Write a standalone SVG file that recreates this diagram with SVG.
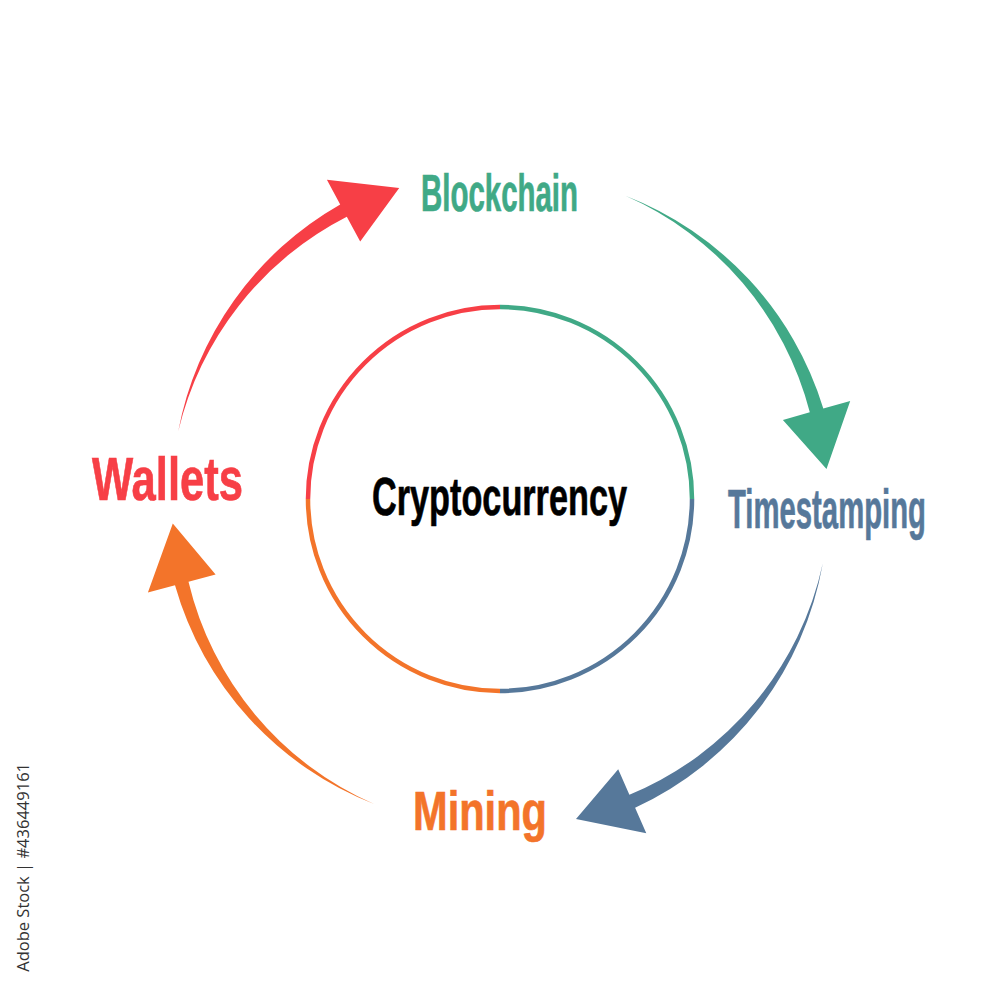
<svg xmlns="http://www.w3.org/2000/svg" width="1000" height="1000" viewBox="0 0 1000 1000">
<style>
.lbl{font-family:"Liberation Sans",Arial,sans-serif;font-weight:bold;stroke-width:0.7}
.ring{fill:none;stroke-width:4.5}
.red{fill:#F73F46;stroke:#F73F46}
.green{fill:#40A986;stroke:#40A986}
.blue{fill:#56789A;stroke:#56789A}
.orange{fill:#F3742A;stroke:#F3742A}
.conn path{stroke:none}
</style>
<rect width="1000" height="1000" fill="#ffffff"/>
<g id="center">
<path class="ring" stroke="#F73F46" d="M308,499 A192,192 0 0 1 500,307"/>
<path class="ring" stroke="#40A986" d="M500,307 A192,192 0 0 1 692,499"/>
<path class="ring" stroke="#56789A" d="M692,499 A192,192 0 0 1 500,691"/>
<path class="ring" stroke="#F3742A" d="M500,691 A192,192 0 0 1 308,499"/>
<text class="lbl" x="372" y="515" font-size="54" fill="#000" stroke="#000" textLength="255" lengthAdjust="spacingAndGlyphs">Cryptocurrency</text>
</g>
<g id="connectors" class="conn">
<path class="red" d="M178.2,431.6 A332,332 0 0 1 340.2,204.4 L326.9,179.8 L399.2,187.9 L360.2,241.4 L346.8,216.8 A325,325 0 0 0 178.2,431.6 Z"/>
<path class="green" d="M625.4,195.8 A332,332 0 0 1 823.3,408.5 L850.2,400.9 L826.5,469.1 L782.9,419.9 L809.8,412.3 A325,325 0 0 0 625.4,195.8 Z"/>
<path class="blue" d="M822.8,563.3 A332,332 0 0 1 635.1,807.7 L646.3,833.3 L576.0,819.1 L618.2,769.2 L629.4,794.8 A325,325 0 0 0 822.8,563.3 Z"/>
<path class="orange" d="M374.1,804.0 A332,332 0 0 1 175.0,585.3 L147.9,592.4 L172.8,523.5 L215.6,574.6 L188.5,581.7 A325,325 0 0 0 374.1,804.0 Z"/>
</g>
<g id="blockchain">
<text class="lbl green" x="421" y="211" font-size="51" textLength="157" lengthAdjust="spacingAndGlyphs">Blockchain</text>
</g>
<g id="timestamping">
<text class="lbl blue" x="728" y="528" font-size="55" textLength="198" lengthAdjust="spacingAndGlyphs">Timestamping</text>
</g>
<g id="mining">
<text class="lbl orange" x="413" y="830" font-size="55" textLength="134" lengthAdjust="spacingAndGlyphs">Mining</text>
</g>
<g id="wallets">
<text class="lbl red" x="92" y="500" font-size="62" textLength="151" lengthAdjust="spacingAndGlyphs">Wallets</text>
</g>
<text transform="translate(29,763) rotate(-90)" text-anchor="end" font-family="'Open Sans','Noto Sans',sans-serif" font-size="16.5" fill="#333">Adobe Stock | #436449161</text>
</svg>
